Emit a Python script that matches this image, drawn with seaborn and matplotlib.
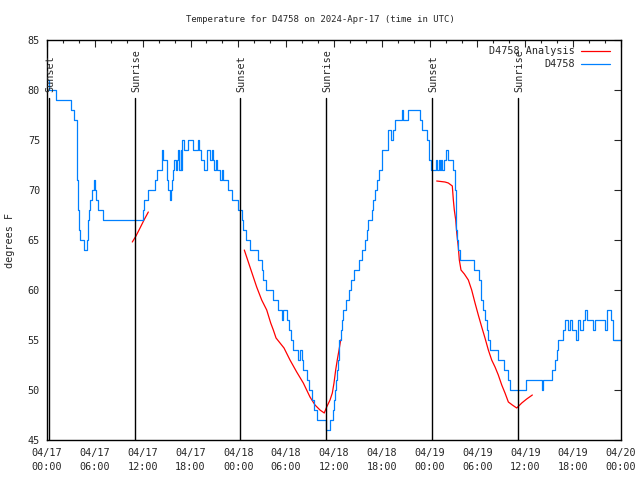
import pandas as pd
import matplotlib
matplotlib.use("Agg")
import matplotlib.pyplot as plt
import seaborn as sns
from matplotlib.ticker import MultipleLocator

# time is hours since 2024-04-17 00:00 UTC
station_hours = [
    0.13, 0.31, 1.13, 3.01, 3.39, 3.73, 3.80, 3.89, 4.05, 4.14, 4.60, 5.02, 5.14,
    5.31, 5.43, 5.64, 5.86, 6.06, 6.18, 6.40, 6.69, 6.99, 12.00, 12.17, 12.38,
    12.63, 13.58, 13.84, 14.39, 14.46, 14.59, 15.01, 15.09, 15.22, 15.43, 15.52,
    15.64, 15.77, 15.97, 16.14, 16.27, 16.47, 16.60, 16.77, 16.85, 16.97, 17.22,
    17.72, 18.30, 18.98, 19.10, 19.28, 19.73, 20.03, 20.45, 20.66, 20.78, 20.95,
    21.16, 21.37, 21.70, 21.91, 22.08, 22.70, 23.17, 24.00, 24.42, 24.55, 24.92,
    25.46, 26.50, 27.01, 27.13, 27.47, 28.39, 29.01, 29.52, 29.64, 30.14, 30.39,
    30.61, 30.90, 31.45, 31.74, 31.95, 32.15, 32.65, 32.90, 33.20, 33.49, 33.83,
    34.96, 35.50, 35.84, 35.96, 36.13, 36.25, 36.38, 36.54, 36.67, 36.84, 36.97,
    37.09, 37.51, 37.92, 38.10, 38.51, 39.10, 39.48, 39.89, 40.10, 40.30, 40.73,
    40.93, 41.18, 41.39, 41.65, 42.06, 42.74, 43.15, 43.40, 43.65, 44.49, 44.66,
    45.28, 46.79, 47.00, 47.70, 47.95, 48.13, 48.80, 48.96, 49.13, 49.26, 49.42,
    49.59, 49.76, 50.01, 50.30, 50.97, 51.18, 51.30, 51.43, 51.59, 51.84, 53.60,
    54.23, 54.44, 54.73, 54.94, 55.16, 55.36, 55.57, 55.78, 56.53, 57.33, 57.79,
    58.08, 60.05, 62.05, 62.26, 63.31, 63.72, 63.94, 64.14, 64.35, 64.76, 64.98,
    65.39, 65.60, 65.82, 66.36, 66.65, 66.86, 67.27, 67.49, 67.70, 68.53, 68.74,
    69.99, 70.21, 70.71, 70.96, 72.00,
]
station_temps = [
    81, 80, 79, 78, 77, 75, 71, 68, 66, 65, 64, 65, 67,
    68, 69, 70, 71, 70, 69, 68, 68, 67, 68, 69, 69,
    70, 71, 72, 73, 74, 73, 72, 71, 70, 69, 70,
    71, 72, 73, 72, 73, 74, 72, 74, 72, 75, 74,
    75, 74, 75, 74, 73, 72, 74, 73, 74, 73, 72,
    73, 72, 71, 72, 71, 70, 69, 68, 67, 66, 65,
    64, 63, 62, 61, 60, 59, 58, 57, 58, 57, 56,
    55, 54, 53, 54, 53, 52, 51, 50, 49, 48, 47,
    46, 47, 48, 49, 50, 51, 52, 53, 55, 56, 57,
    58, 59, 60, 61, 62, 63, 64, 65, 66, 67, 68,
    69, 70, 71, 72, 74, 76, 75, 76, 77, 78, 77,
    78, 77, 76, 75, 73, 72, 73, 72, 73, 72, 73,
    72, 73, 74, 73, 72, 70, 66, 65, 64, 63, 62,
    61, 59, 58, 57, 56, 55, 54, 54, 53, 52, 51,
    50, 51, 50, 51, 52, 53, 54, 55, 55, 56, 57,
    56, 57, 56, 55, 57, 56, 57, 58, 57, 56, 57,
    56, 58, 57, 55, 55,
]

analysis_seg1_hours = [10.70, 11.16, 11.67, 12.17, 12.71]
analysis_seg1_temps = [64.8, 65.4, 66.2, 67.0, 67.8]

analysis_seg2_hours = [24.75, 25.46, 26.30, 26.93, 27.56, 28.06, 28.39, 28.73, 29.23,
                       29.73, 30.48, 31.32, 32.15, 32.99, 33.62, 34.24, 34.78, 35.08,
                       35.50, 35.79, 36.00, 36.21, 36.41, 36.63, 36.84]
analysis_seg2_temps = [64.0, 62.3, 60.3, 59.0, 58.0, 56.7, 56.0, 55.2, 54.7,
                       54.2, 53.0, 51.8, 50.7, 49.3, 48.5, 48.0, 47.7, 48.3,
                       49.0, 49.7, 50.7, 52.0, 53.0, 54.0, 55.0]

analysis_seg3_hours = [48.88, 49.92, 50.34, 50.84, 50.97, 51.09, 51.27, 51.40, 51.59,
                       51.72, 51.93, 52.35, 52.85, 53.27, 53.69, 54.10, 54.53, 54.94,
                       55.36, 55.78, 56.20, 56.61, 57.04, 57.45, 57.87, 58.37, 58.92,
                       59.55, 60.17, 60.88]
analysis_seg3_temps = [70.9, 70.8, 70.7, 70.4, 69.0, 68.0, 67.0, 65.7, 64.3,
                       63.0, 62.0, 61.6, 61.0, 60.0, 58.7, 57.5, 56.3, 55.2,
                       54.0, 53.0, 52.3, 51.5, 50.5, 49.7, 48.8, 48.5, 48.2,
                       48.7, 49.1, 49.5]

sun_hours = [0.25, 11.04, 24.21, 35.00, 48.30, 59.08]
sun_labels = ["Sunset", "Sunrise", "Sunset", "Sunrise", "Sunset", "Sunrise"]

tick_hours = [0, 6, 12, 18, 24, 30, 36, 42, 48, 54, 60, 66, 72]
tick_labels = ["04/17\n00:00", "04/17\n06:00", "04/17\n12:00", "04/17\n18:00",
               "04/18\n00:00", "04/18\n06:00", "04/18\n12:00", "04/18\n18:00",
               "04/19\n00:00", "04/19\n06:00", "04/19\n12:00", "04/19\n18:00",
               "04/20\n00:00"]

sns.set_style("white")
plt.rcParams["font.family"] = ["DejaVu Sans Mono"]
plt.rcParams["font.size"] = 7

fig = plt.figure(figsize=(6.4, 4.8), dpi=100)
ax = fig.add_axes([47 / 640, 40 / 480, 574 / 640, 400 / 480])

segments = [
    (analysis_seg1_hours, analysis_seg1_temps),
    (analysis_seg2_hours, analysis_seg2_temps),
    (analysis_seg3_hours, analysis_seg3_temps),
]
for i, (hrs, tmps) in enumerate(segments):
    sns.lineplot(x=hrs, y=tmps, ax=ax, color="#ff0000", linewidth=0.9,
                 estimator=None, sort=False,
                 label="D4758 Analysis" if i == 0 else "_nolegend_")

station = pd.DataFrame({"hour": station_hours, "temp": station_temps})
sns.lineplot(data=station, x="hour", y="temp", ax=ax, color="#0080ff",
             linewidth=0.9, estimator=None, sort=False, drawstyle="steps-post",
             label="D4758")

for h, name in zip(sun_hours, sun_labels):
    ax.plot([h, h], [45, 79.2], color="black", linewidth=1.0)
    ax.text(h + 0.15, 79.8, name, rotation=90, ha="center", va="bottom",
            fontsize=7.3)

ax.set_xlim(0, 72)
ax.set_ylim(45, 85)
ax.set_xticks(tick_hours)
ax.set_xticklabels(tick_labels, linespacing=1.6)
ax.xaxis.set_minor_locator(MultipleLocator(2))
ax.yaxis.set_major_locator(MultipleLocator(5))
ax.tick_params(axis="both", which="major", direction="in", length=5, width=0.8,
               top=True, right=True, labelsize=7.3, pad=5)
ax.tick_params(axis="both", which="minor", direction="in", length=2.5,
               width=0.8, top=True, right=True)
ax.tick_params(axis="x", which="major", pad=5.5)
for s in ax.spines.values():
    s.set_color("black")
    s.set_linewidth(1.0)

ax.set_xlabel("")
ax.set_ylabel("degrees F", fontsize=7.3)
ax.yaxis.set_label_coords(-0.056, 0.5)

fig.text(0.5, 1 - 19 / 480, "Temperature for D4758 on 2024-Apr-17 (time in UTC)",
         ha="center", va="center", fontsize=6.5)

ax.legend(loc="upper right", bbox_to_anchor=(0.992, 1.0), frameon=False,
          markerfirst=False, fontsize=7.3, handlelength=2.9, handletextpad=0.6,
          labelspacing=0.3, borderaxespad=0.3, borderpad=0.3)

fig.savefig("out.png", dpi=100)
plt.close(fig)
